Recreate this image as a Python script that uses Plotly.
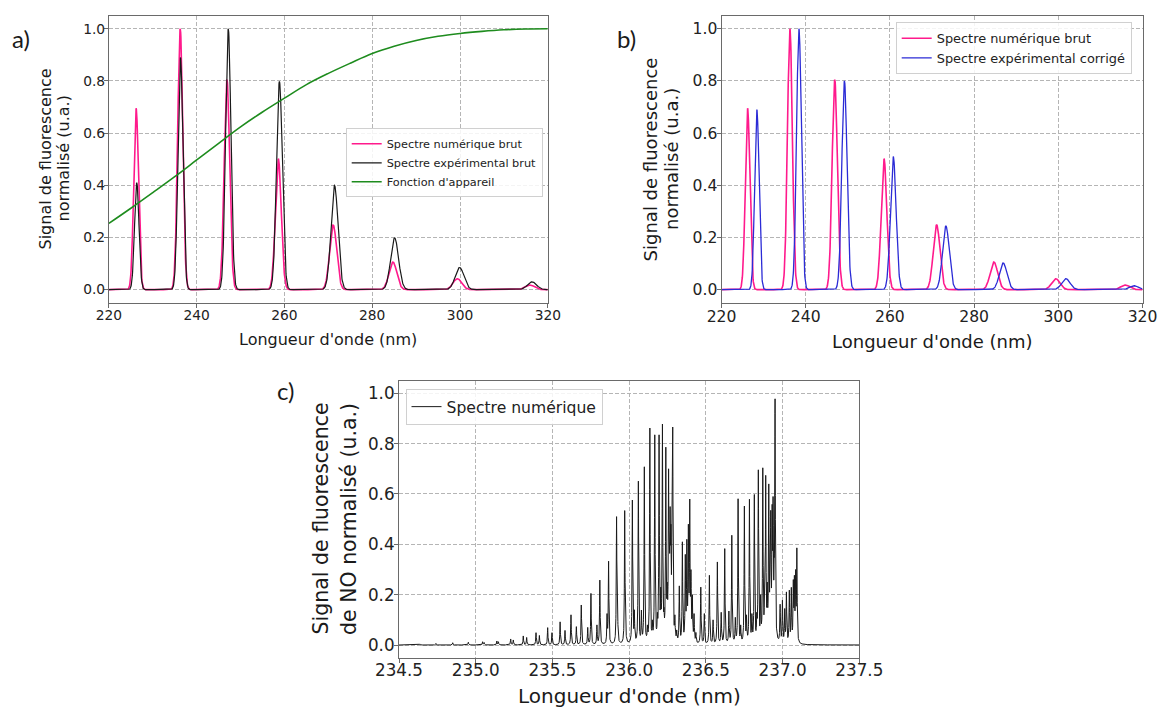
import numpy as np
import plotly.graph_objects as go

W, H = 1159, 709

# ---------------- Panel a / b : peak lists ----------------
wl_num = [226.2, 236.25, 246.9, 258.6, 271.1, 284.7, 299.4, 315.9]
h_num = [0.695, 1.0, 0.805, 0.502, 0.248, 0.106, 0.042, 0.018]
w_num = [0.54, 0.58, 0.62, 0.67, 0.80, 0.90, 1.00, 1.05]

wl_exp = [226.35, 236.3, 247.2, 258.85, 271.4, 285.1, 299.9, 316.4]
h_exp = [0.41, 0.89, 1.0, 0.798, 0.40, 0.198, 0.085, 0.030]
w_exp = [0.50, 0.56, 0.60, 0.66, 0.80, 0.90, 1.00, 1.05]

wl_cor = [228.4, 238.4, 249.2, 260.8, 273.3, 286.9, 301.8, 318.0]
h_cor = [0.69, 1.0, 0.80, 0.51, 0.244, 0.102, 0.042, 0.015]
w_cor = [0.52, 0.57, 0.62, 0.67, 0.80, 0.90, 1.00, 1.05]

app_wl = [220, 225, 230, 235, 240, 245, 250, 255, 260, 265, 270,
          275, 280, 285, 290, 295, 300, 305, 310, 315, 320]
app_val = [0.254, 0.312, 0.372, 0.433, 0.497, 0.561, 0.624, 0.681, 0.734, 0.786, 0.829,
           0.868, 0.905, 0.933, 0.955, 0.971, 0.982, 0.990, 0.996, 0.999, 1.0]

# ---------------- Panel c : NO line list (position nm, peak height) ----------------
no_wl = [234.637, 234.741, 234.850, 234.952, 235.045, 235.055, 235.138, 235.148,
         235.228, 235.245, 235.310, 235.332, 235.393, 235.415, 235.469, 235.497,
         235.550, 235.582, 235.621, 235.656, 235.688, 235.730, 235.751, 235.790,
         235.809, 235.856, 235.866, 235.918, 235.925, 235.971, 235.976, 236.021,
         236.034, 236.060, 236.080, 236.099, 236.119, 236.135, 236.151, 236.167,
         236.184, 236.195, 236.206, 236.217, 236.227, 236.239, 236.248, 236.257,
         236.262, 236.267, 236.272, 236.279, 236.284, 236.298, 236.310,
         236.327, 236.347, 236.366, 236.376, 236.386, 236.395, 236.403, 236.412,
         236.423, 236.435,
         236.467, 236.490, 236.523, 236.547, 236.575, 236.600, 236.623, 236.650,
         236.669, 236.692, 236.710, 236.727, 236.751, 236.765, 236.784, 236.800,
         236.816, 236.832, 236.842, 236.857, 236.871, 236.882, 236.890, 236.900,
         236.910, 236.918, 236.923, 236.932, 236.938, 236.945, 236.951,
         236.984, 236.999, 237.014, 237.025, 237.044, 237.057, 237.070, 237.077,
         237.085, 237.093]
no_h = [0.004, 0.006, 0.009, 0.011, 0.013, 0.010, 0.016, 0.013,
        0.024, 0.020, 0.036, 0.030, 0.049, 0.038, 0.069, 0.049,
        0.092, 0.058, 0.120, 0.073, 0.159, 0.070, 0.205, 0.080,
        0.258, 0.125, 0.333, 0.510, 0.130, 0.534, 0.150, 0.576,
        0.140, 0.651, 0.139, 0.708, 0.080, 0.862, 0.100, 0.835,
        0.130, 0.835, 0.230, 0.878, 0.150, 0.786, 0.250, 0.700,
        0.420, 0.550, 0.480, 0.500, 0.866, 0.120, 0.060,
        0.235, 0.410, 0.360, 0.420, 0.480, 0.580, 0.300, 0.200,
        0.125, 0.050,
        0.230, 0.125, 0.277, 0.100, 0.330, 0.130, 0.383, 0.135,
        0.436, 0.110, 0.581, 0.080, 0.552, 0.120, 0.579, 0.125,
        0.598, 0.130, 0.696, 0.200, 0.704, 0.190, 0.674, 0.250,
        0.640, 0.300, 0.535, 0.559, 0.590, 0.350, 0.978,
        0.162, 0.178, 0.145, 0.211, 0.218, 0.229, 0.260, 0.277,
        0.300, 0.386]

# ---------------- profiles ----------------
def gauss_sum(x, c, h, s):
    y = np.zeros_like(x)
    for ci, hi, si in zip(c, h, s):
        y += hi * np.exp(-0.5 * ((x - ci) / si) ** 2)
    return y

G = 0.0022  # Lorentzian half width (nm)

def lorentz(d):
    return G * G / (d * d + G * G)

c_arr = np.array(no_wl)
# amplitudes chosen so that the summed profile reaches the read height at each line
A = lorentz(c_arr[:, None] - c_arr[None, :])
amp = np.clip(np.linalg.solve(A, np.array(no_h)), 0.0, None)

xa = np.arange(220.0, 320.0001, 0.05)
y_num = gauss_sum(xa, wl_num, h_num, w_num)
y_exp = gauss_sum(xa, wl_exp, h_exp, w_exp)
y_cor = gauss_sum(xa, wl_cor, h_cor, w_cor)

xc = np.unique(np.concatenate([np.arange(234.5, 237.5001, 0.0004), c_arr]))
y_no = (amp[None, :] * lorentz(xc[:, None] - c_arr[None, :])).sum(axis=1)

PINK = "#ff1a8c"
BLACK = "#1a1a1a"
GREEN = "#1e8c1e"
BLUE = "#2b2bd6"
FONT = "DejaVu Sans"

fig = go.Figure()
fig.add_trace(go.Scatter(x=xa, y=y_num, mode="lines", name="Spectre numérique brut",
                         line=dict(color=PINK, width=1.6), legend="legend",
                         xaxis="x", yaxis="y"))
fig.add_trace(go.Scatter(x=xa, y=y_exp, mode="lines", name="Spectre expérimental brut",
                         line=dict(color=BLACK, width=1.2), legend="legend",
                         xaxis="x", yaxis="y"))
fig.add_trace(go.Scatter(x=app_wl, y=app_val, mode="lines", name="Fonction d'appareil",
                         line=dict(color=GREEN, width=1.6, shape="spline"), legend="legend",
                         xaxis="x", yaxis="y"))
fig.add_trace(go.Scatter(x=xa, y=y_num, mode="lines", name="Spectre numérique brut",
                         line=dict(color=PINK, width=1.6), legend="legend2",
                         xaxis="x2", yaxis="y2"))
fig.add_trace(go.Scatter(x=xa, y=y_cor, mode="lines", name="Spectre expérimental corrigé",
                         line=dict(color=BLUE, width=1.3), legend="legend2",
                         xaxis="x2", yaxis="y2"))
fig.add_trace(go.Scatter(x=xc, y=y_no, mode="lines", name="Spectre numérique",
                         line=dict(color=BLACK, width=1.0), legend="legend3",
                         xaxis="x3", yaxis="y3"))

def px_x(p):
    return p / W

def px_y(p):
    return 1 - p / H

def axis_style(size, standoff=-4, **kw):
    d = dict(showline=True, mirror=True, linecolor="#6a6a6a", linewidth=1,
             ticks="outside", ticklen=4, tickcolor="#6a6a6a", tickwidth=1,
             showgrid=True, gridcolor="#b5b5b5", griddash="4px,2px", gridwidth=1,
             zeroline=False, automargin=False, ticklabelstandoff=standoff,
             tickfont=dict(family=FONT, size=size, color="#222222"))
    d.update(kw)
    return d

ya_dom = [px_y(302.7), px_y(15.7)]
fig.update_layout(
    width=W, height=H, margin=dict(l=0, r=0, t=0, b=0, autoexpand=False),
    paper_bgcolor="white", plot_bgcolor="white",
    xaxis=axis_style(13.8, domain=[px_x(108.9), px_x(547.8)], range=[220, 320],
                     tickvals=[220, 240, 260, 280, 300, 320], anchor="y"),
    yaxis=axis_style(13.8, domain=ya_dom, range=[-0.05, 1.05],
                     tickvals=[0, 0.2, 0.4, 0.6, 0.8, 1.0], tickformat=".1f", anchor="x"),
    xaxis2=axis_style(15.6, domain=[px_x(721.5), px_x(1142.5)], range=[220, 320],
                      tickvals=[220, 240, 260, 280, 300, 320], anchor="y2"),
    yaxis2=axis_style(15.6, domain=ya_dom, range=[-0.05, 1.05],
                      tickvals=[0, 0.2, 0.4, 0.6, 0.8, 1.0], tickformat=".1f", anchor="x2"),
    xaxis3=axis_style(16.8, standoff=-7, domain=[px_x(399), px_x(859.3)], range=[234.5, 237.5],
                      tickvals=[234.5, 235.0, 235.5, 236.0, 236.5, 237.0, 237.5],
                      tickformat=".1f", anchor="y3"),
    yaxis3=axis_style(16.8, domain=[px_y(657.6), px_y(380.7)], range=[-0.05, 1.05],
                      tickvals=[0, 0.2, 0.4, 0.6, 0.8, 1.0], tickformat=".1f", anchor="x3"),
    legend=dict(x=px_x(345.7), y=px_y(128.3), xanchor="left", yanchor="top",
                bgcolor="rgba(255,255,255,0.85)", bordercolor="#d0d0d0", borderwidth=1,
                font=dict(family=FONT, size=11.3, color="#222222")),
    legend2=dict(x=px_x(895.7), y=px_y(22.3), xanchor="left", yanchor="top",
                 bgcolor="rgba(255,255,255,0.85)", bordercolor="#d0d0d0", borderwidth=1,
                 font=dict(family=FONT, size=12.9, color="#222222")),
    legend3=dict(x=px_x(405.5), y=px_y(389), xanchor="left", yanchor="top",
                 bgcolor="rgba(255,255,255,0.85)", bordercolor="#d0d0d0", borderwidth=1,
                 font=dict(family=FONT, size=15.6, color="#222222")),
)

def ann(text, x, y, size, angle=0, family=FONT):
    fig.add_annotation(text=text, x=px_x(x), y=px_y(y), xref="paper", yref="paper",
                       showarrow=False, xanchor="center", yanchor="middle",
                       textangle=angle, font=dict(family=family, size=size, color="#1a1a1a"))

# axis titles
ann("Longueur d'onde (nm)", 328.4, 340, 16)
ann("Signal de fluorescence", 44.5, 159, 16, -90)
ann("normalisé (u.a.)", 62.5, 159, 16, -90)
ann("Longueur d'onde (nm)", 932, 341.7, 18)
ann("Signal de fluorescence", 650.4, 159, 18, -90)
ann("normalisé (u.a.)", 671, 159, 18, -90)
ann("Longueur d'onde (nm)", 629, 696, 20)
ann("Signal de fluorescence", 320.5, 519, 20.5, -90)
ann("de NO normalisé (u.a.)", 349, 519, 20.5, -90)
# panel labels
ann("a)", 21, 38, 24, family="Lato")
ann("b)", 626, 38, 24, family="Lato")
ann("c)", 285, 390, 24, family="Lato")

fig.write_html("out.html", config={"displayModeBar": False},
               post_script="document.body.style.margin='0';")
